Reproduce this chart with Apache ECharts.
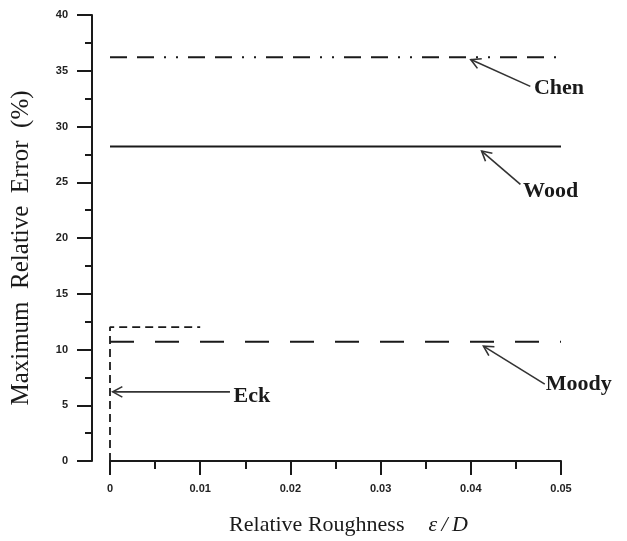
<!DOCTYPE html>
<html>
<head>
<meta charset="utf-8">
<script src="https://cdn.jsdelivr.net/npm/echarts@6/dist/echarts.min.js"></script>
<style>html,body{margin:0;padding:0;background:#fff;}#chart{width:627px;height:541px;}</style>
</head>
<body>
<div id="chart"></div>
<script>
// ---- data ----
const roughnessRange = [0, 0.05];          // relative roughness ε/D range of the correlations
const chenError = [36.2, 36.2];
const woodError = [28.2, 28.2];
const moodyError = [10.7, 10.7];
const eckRoughness = [0, 0, 0.01];
const eckError = [0, 12, 12];
const xTicks = [0, 0.01, 0.02, 0.03, 0.04, 0.05];
const yTicks = [0, 5, 10, 15, 20, 25, 30, 35, 40];

// annotation arrows (data coordinates): head -> tail, label anchor
const annNames = ['Chen', 'Wood', 'Moody', 'Eck'];
const annHeadX = [0.0400, 0.0412, 0.0414, 0.0003];
const annHeadY = [36.0, 27.8, 10.3, 6.2];
const annTailX = [0.0466, 0.0455, 0.0482, 0.0133];
const annTailY = [33.6, 24.8, 6.9, 6.2];
const annLabelX = [0.0470, 0.0458, 0.0483, 0.0137];
const annLabelY = [33.4, 24.2, 6.9, 5.8];

const pairs = (xs, ys) => xs.map((x, i) => [x, ys[i]]);
const ink = '#1a1a1a';

const annData = annNames.map((n, i) => [annHeadX[i], annHeadY[i], annTailX[i], annTailY[i], annLabelX[i], annLabelY[i], n]);

const chart = echarts.init(document.getElementById('chart'));
chart.setOption({
  animation: false,
  backgroundColor: '#fff',
  grid: { left: 110, right: 66, top: 15, bottom: 78, containLabel: false },
  xAxis: {
    type: 'value', min: xTicks[0], max: xTicks[xTicks.length - 1], interval: 0.01,
    name: '{n|Relative Roughness}{i|ε\u2009/\u2009D}',
    nameLocation: 'middle', nameGap: 53,
    nameTextStyle: {
      padding: [0, 0, 0, 26],
      rich: {
        n: { fontFamily: 'Liberation Serif', fontSize: 22, color: ink },
        i: { fontFamily: 'Liberation Serif', fontSize: 22, fontStyle: 'italic', color: ink, padding: [0, 0, 0, 24] }
      }
    },
    axisLine: { show: true, onZero: false, lineStyle: { color: ink, width: 2 } },
    axisTick: { show: true, inside: false, length: 14, lineStyle: { color: ink, width: 2 } },
    minorTick: { show: true, splitNumber: 2, length: 8, lineStyle: { color: ink, width: 2 } },
    axisLabel: { margin: 22, fontFamily: 'Liberation Sans', fontSize: 11, fontWeight: 'bold', color: '#222',
      formatter: v => String(+v.toFixed(2)) },
    splitLine: { show: false }, minorSplitLine: { show: false }
  },
  yAxis: {
    type: 'value', min: yTicks[0], max: yTicks[yTicks.length - 1], interval: 5,
    offset: 18,
    name: 'Maximum  Relative  Error  (%)',
    nameLocation: 'middle', nameGap: 58, nameRotate: 90,
    nameTextStyle: { fontFamily: 'Liberation Serif', fontSize: 25, color: ink, padding: [0, 20, 0, 0] },
    axisLine: { show: true, onZero: false, lineStyle: { color: ink, width: 2 } },
    axisTick: { show: true, inside: false, length: 15, lineStyle: { color: ink, width: 2 } },
    minorTick: { show: true, splitNumber: 2, length: 7, lineStyle: { color: ink, width: 2 } },
    axisLabel: { margin: 24, fontFamily: 'Liberation Sans', fontSize: 11, fontWeight: 'bold', color: '#222' },
    splitLine: { show: false }, minorSplitLine: { show: false }
  },
  series: [
    { name: 'Chen', type: 'line', symbol: 'none', data: pairs(roughnessRange, chenError),
      lineStyle: { color: ink, width: 2, type: [17, 10, 17, 10, 2, 10, 2, 10] } },
    { name: 'Wood', type: 'line', symbol: 'none', data: pairs(roughnessRange, woodError),
      lineStyle: { color: ink, width: 2, type: 'solid' } },
    { name: 'Moody', type: 'line', symbol: 'none', data: pairs(roughnessRange, moodyError),
      lineStyle: { color: ink, width: 2, type: [24, 21] } },
    { name: 'Eck', type: 'line', symbol: 'none', data: pairs(eckRoughness, eckError),
      lineStyle: { color: ink, width: 1.8, type: [8, 5] } },
    { name: 'annotations', type: 'custom', silent: true, data: annData,
      renderItem: function (params, api) {
        const h = api.coord([api.value(0), api.value(1)]);
        const t = api.coord([api.value(2), api.value(3)]);
        const l = api.coord([api.value(4), api.value(5)]);
        const ang = Math.atan2(t[1] - h[1], t[0] - h[0]);
        const len = 11, spread = 0.5;
        const a1 = [h[0] + len * Math.cos(ang + spread), h[1] + len * Math.sin(ang + spread)];
        const a2 = [h[0] + len * Math.cos(ang - spread), h[1] + len * Math.sin(ang - spread)];
        const st = { stroke: '#333', lineWidth: 1.6, fill: null };
        return { type: 'group', children: [
          { type: 'line', shape: { x1: t[0], y1: t[1], x2: h[0], y2: h[1] }, style: st },
          { type: 'polyline', shape: { points: [a1, h, a2] }, style: st },
          { type: 'text', x: l[0], y: l[1], style: { text: annNames[params.dataIndex],
            font: 'bold 22px "Liberation Serif"', fill: ink, align: 'left', verticalAlign: 'middle' } }
        ] };
      }
    }
  ]
});
</script>
</body>
</html>
